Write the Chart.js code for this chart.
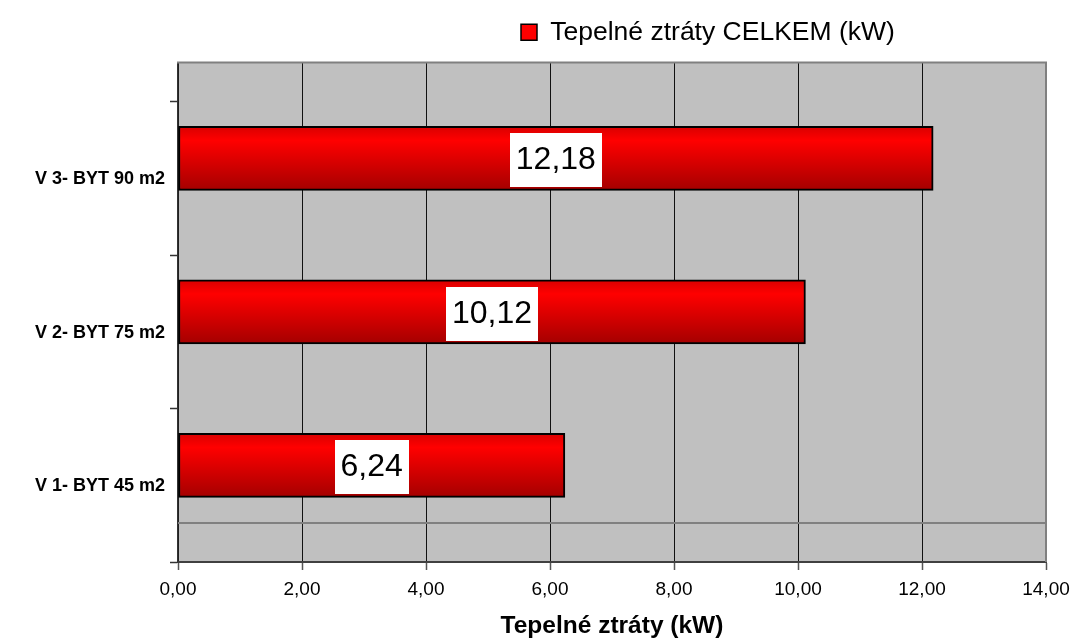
<!DOCTYPE html>
<html><head><meta charset="utf-8">
<script src="https://cdn.jsdelivr.net/npm/chart.js@4/dist/chart.umd.min.js"></script>
<style>html,body{margin:0;padding:0;background:#fff}#wrap{width:1075px;height:641px;position:relative}</style>
</head><body><div id="wrap"><canvas id="c"></canvas></div>
<script>
// ---- data ----
const categories = ['V 1- BYT 45 m2', 'V 2- BYT 75 m2', 'V 3- BYT 90 m2'];
const seriesName = 'Tepelné ztráty CELKEM (kW)';
const values = [6.24, 10.12, 12.18];
const xTicks = [0, 2, 4, 6, 8, 10, 12, 14];
const xTitle = 'Tepelné ztráty (kW)';

// ---- layout constants (not data) ----
const BAR_SHIFT = 0.63;      // bar centre inside its category band
const Y_MAX = 3.255;         // plot area extends a bit above the last band
const REF_LINE = 0.256;      // grey horizontal line near the bottom
const FONT = "'Liberation Sans', Arial, Helvetica, sans-serif";

Chart.defaults.font.family = FONT;
Chart.defaults.color = '#000';

const fmt = v => v.toFixed(2).replace('.', ',');

const bgPlugin = {
  id: 'bg',
  beforeDraw(chart) {
    const {ctx, chartArea: a} = chart;
    ctx.save();
    ctx.fillStyle = '#C0C0C0';
    ctx.fillRect(a.left, a.top, a.right - a.left, a.bottom - a.top);
    ctx.restore();
  },
  beforeDatasetsDraw(chart) {
    const {ctx, chartArea: a, scales} = chart;
    const y = Math.round(scales.y.getPixelForValue(REF_LINE));
    ctx.save();
    ctx.strokeStyle = '#808080';
    ctx.lineWidth = 2;
    ctx.beginPath(); ctx.moveTo(a.left, y); ctx.lineTo(a.right, y); ctx.stroke();
    ctx.restore();
  },
  afterDatasetsDraw(chart) {
    const {ctx, chartArea: a} = chart;
    ctx.save();
    ctx.strokeStyle = '#808080';
    ctx.lineWidth = 2;
    ctx.beginPath();
    ctx.moveTo(a.left - 1, a.top);
    ctx.lineTo(a.right, a.top);
    ctx.lineTo(a.right, a.bottom);
    ctx.stroke();
    // data labels
    const meta = chart.getDatasetMeta(0);
    ctx.font = '32px ' + FONT;
    ctx.textAlign = 'center';
    ctx.textBaseline = 'middle';
    meta.data.forEach((el, i) => {
      const txt = fmt(values[i]);
      const cx = (el.x + el.base) / 2, cy = el.y + 2;
      const w = ctx.measureText(txt).width + 12, h = 54;
      ctx.fillStyle = '#fff';
      ctx.fillRect(Math.round(cx - w / 2), Math.round(cy - h / 2), Math.round(w), h);
      ctx.fillStyle = '#000';
      ctx.fillText(txt, cx, cy);
    });
    ctx.restore();
  },
  afterLayout(chart) {
    const lg = chart.legend;
    if (lg) {
      const dx = 511 - lg.left;
      lg.left += dx; lg.right += dx;
      lg.top -= 7; lg.bottom -= 7;
    }
  }
};

new Chart(document.getElementById('c'), {
  type: 'bar',
  data: {
    datasets: [{
      label: seriesName,
      data: values.map((v, i) => ({x: v, y: i + BAR_SHIFT})),
      backgroundColor: (c) => {
        const ys = c.chart.scales.y;
        if (c.type !== 'data' || !ys || !c.parsed) return '#FF0000';
        const mid = ys.getPixelForValue(c.parsed.y);
        const g = c.chart.ctx.createLinearGradient(0, mid - 32, 0, mid + 32);
        g.addColorStop(0, '#D80000');
        g.addColorStop(0.22, '#FF0000');
        g.addColorStop(1, '#A40000');
        return g;
      },
      borderColor: '#000',
      borderWidth: 2,
      borderSkipped: false,
      barThickness: 64
    }]
  },
  options: {
    indexAxis: 'y',
    responsive: true,
    maintainAspectRatio: false,
    animation: false,
    devicePixelRatio: 1,
    layout: {padding: {top: 16, right: 29, bottom: 0, left: 0}},
    plugins: {
      legend: {
        display: true,
        position: 'top',
        align: 'start',
        labels: {
          boxWidth: 16, boxHeight: 16, padding: 10,
          font: {size: 26.5, family: FONT}, color: '#000',
          generateLabels: (chart) => [{
            text: seriesName, fillStyle: '#FF0000', strokeStyle: '#000',
            lineWidth: 1.5, hidden: false, datasetIndex: 0
          }]
        }
      },
      tooltip: {enabled: false}
    },
    scales: {
      x: {
        type: 'linear',
        min: xTicks[0], max: xTicks[xTicks.length - 1],
        afterBuildTicks: s => { s.ticks = xTicks.map(v => ({value: v})); },
        afterFit: s => { s.height = 79; s.paddingRight = 0; s.paddingLeft = 0; },
        ticks: {
          callback: v => fmt(v),
          font: {size: 19, family: FONT}, color: '#000', padding: 8, maxRotation: 0
        },
        grid: {
          color: c => (c.tick && c.tick.value === 14) ? 'rgba(0,0,0,0)' : '#111',
          lineWidth: 1, tickLength: 8, tickColor: '#555', tickWidth: 1.5
        },
        border: {color: '#404040', width: 2},
        title: {
          display: true, text: xTitle,
          font: {size: 24.5, weight: 'bold', family: FONT}, color: '#000',
          padding: {top: 0, bottom: 0}
        }
      },
      y: {
        type: 'linear',
        min: 0, max: Y_MAX,
        offset: false,
        afterFit: s => { s.width = 178; },
        ticks: {
          stepSize: 1, includeBounds: false,
          callback: v => (categories[v] !== undefined ? categories[v] : ''),
          labelOffset: -76,
          font: {size: 18, weight: 'bold', family: FONT}, color: '#000', padding: 5
        },
        grid: {offset: false, drawOnChartArea: false, tickLength: 8, tickColor: '#333', tickWidth: 1.5},
        border: {color: '#333', width: 1.5}
      }
    }
  },
  plugins: [bgPlugin]
});
</script></body></html>
